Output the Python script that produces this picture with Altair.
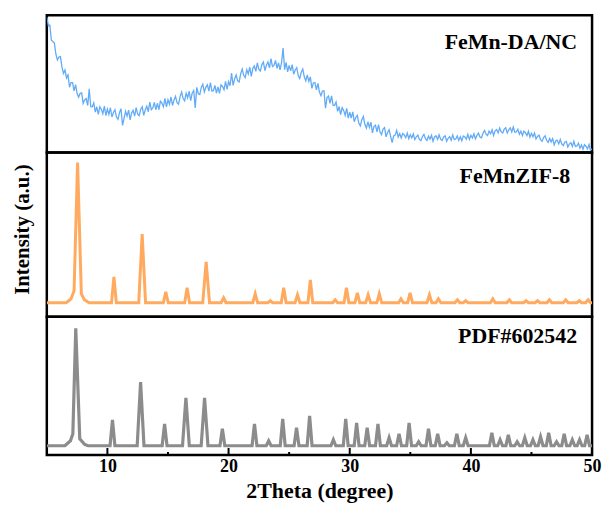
import altair as alt
import pandas as pd

X_MIN, X_MAX = 5, 50

# ---------------- top panel: FeMn-DA/NC (read every 0.125 deg from 5 to 50) ----------------
nc_start = 5.0
nc_step = 0.125
nc_values = [
    136, 127.5, 128, 112.8, 111.5, 110, 98.8, 93, 96, 96.4, 85.8, 79.4, 82.9, 75, 78, 65.6,
    70.3, 70.2, 62, 68.2, 59.3, 55.5, 59.6, 60, 49.4, 52.8, 54.3, 47.2, 64, 46, 45.9, 49.8,
    40.7, 46, 38.4, 46, 43.5, 39, 46.6, 37.2, 43.7, 38.4, 45, 35.7, 40.3, 43, 35.6, 33.3,
    40, 44.1, 27.2, 34.3, 41.4, 36.5, 42.7, 32.8, 39.9, 42.3, 36.7, 45.2, 38.6, 37, 43.5, 46,
    37.4, 43, 46.5, 41, 50.6, 43.2, 44.8, 50.4, 43, 49.5, 43.1, 51.5, 49.8, 46.1, 54.5, 45.8,
    53.1, 48.5, 55.8, 47.3, 52.9, 56.5, 50, 48.6, 56.2, 60.7, 54.3, 51.9, 59.5, 55, 61.6, 52.2,
    59.8, 62.3, 44.9, 65.5, 59.1, 58.3, 65.5, 68.6, 60.8, 65.5, 68.2, 61.7, 70.2, 61.7, 62.3, 67.4,
    59.6, 66, 59.5, 68, 66.4, 63, 71.6, 63.4, 71.3, 67.1, 79.9, 67.4, 74, 78, 72, 71,
    79, 83.8, 77.6, 75.4, 83.2, 79, 85.8, 76.6, 84.4, 87, 81.6, 90, 83.5, 82, 88.4, 90.9,
    82.4, 87.7, 91, 85.1, 94.3, 86.4, 87.5, 92.5, 84.5, 90.2, 83, 90.4, 104.9, 83.3, 90.7, 81.1,
    87.6, 82, 88.4, 78.7, 83, 85.2, 77.3, 74.5, 80.7, 83.9, 76.1, 72, 78, 71.5, 76, 64.4,
    69.9, 70.4, 63, 69.4, 60.8, 57.2, 61.7, 62.1, 44.6, 55.2, 56.8, 49.4, 57, 47.6, 47.2, 50.8,
    41.4, 46.2, 38.1, 45.2, 42.3, 37.3, 44.4, 34.5, 40.6, 34.7, 40.8, 31, 35.2, 37.4, 29.6, 26.8,
    33, 36.1, 28.3, 24.6, 30.9, 25.2, 30.5, 19.8, 26.1, 27.4, 20.7, 28.1, 20.6, 18.1, 23.6, 25.1,
    15.7, 20.2, 22.8, 16.3, 9.9, 16.7, 17.5, 22.2, 15.6, 19, 14.6, 19.1, 17.7, 15, 19.6, 14,
    18, 14.7, 18.7, 13, 15.8, 17.5, 13.2, 11.9, 16, 18.3, 14, 12.2, 16.5, 13.5, 17.2, 11.3,
    15.6, 16.8, 13.1, 17.8, 13.5, 12.2, 15.7, 16.8, 11.4, 14.3, 16, 12.3, 17.7, 12.9, 13.6, 16.7,
    12.1, 15.8, 11.8, 16.7, 15.7, 13.4, 18.4, 13.1, 17.4, 14.6, 18.9, 13.8, 17.2, 19.4, 15.6, 14.8,
    19.4, 22.2, 18.4, 17, 21.6, 18.9, 22.9, 17.2, 21.8, 23.1, 19.7, 24.7, 20.7, 19.7, 23.5, 24.9,
    19.7, 22.8, 24.8, 20.7, 25.7, 20.5, 20.8, 23.4, 18.3, 21.5, 17, 21.4, 19.9, 17, 21.4, 15.5,
    19.3, 15.8, 19.6, 13.7, 16.2, 17.5, 12.9, 11.2, 15, 16.9, 12.3, 10.2, 14.1, 10.7, 14, 7.7,
    11.6, 12.5, 8.6, 13.1, 8.6, 7, 10.3, 11.2, 5.6, 8.4, 10, 6.1, 11.3, 6.2, 6.6, 9.4,
    4.4, 7.7, 3.3, 7.8, 6.4, 3.6, 8, 2.1, 4,
]

# ---------------- middle panel: FeMnZIF-8 ----------------
zif_base = 14
zif_main_x = [6.6, 7.0, 7.25, 7.54, 7.85, 8.1, 8.5]
zif_main_y = [0, 4, 12, 141, 9, 3, 0]
zif_peak_x = [10.54, 12.87, 14.82, 16.58, 18.15, 19.59, 22.2, 23.44, 24.55, 25.69, 26.75,
              28.8, 29.73, 30.63, 31.52, 32.44, 34.23, 34.98, 36.58, 37.32, 38.89, 39.57,
              41.81, 43.17, 44.55, 45.5, 46.48, 47.83, 48.94, 49.67]
zif_peak_h = [26, 69, 11, 15, 41, 5, 9, 2, 15, 8, 23,
              3, 15, 10, 8, 9, 4, 10, 8, 4, 3, 2,
              4, 3, 2, 2, 3, 3, 2, 3]

# ---------------- bottom panel: PDF#602542 ----------------
pdf_base = 9.3
pdf_main_x = [6.5, 6.95, 7.15, 7.39, 7.72, 8.13, 8.4]
pdf_main_y = [0, 5, 12, 118, 7, 1.3, 0]
pdf_peak_x = [10.42, 12.74, 14.72, 16.48, 18.02, 19.49, 22.14, 23.31, 24.47, 25.61, 26.69,
              28.65, 29.67, 30.57, 31.44, 32.33, 33.25, 34.07, 34.9, 35.69, 36.5, 37.26,
              38.02, 38.84, 39.57, 41.73, 42.41, 43.09, 43.82, 44.45, 45.12, 45.75, 46.42,
              47.07, 47.7, 48.37, 48.97, 49.59]
pdf_peak_h = [26, 64, 22, 48, 48, 17, 22, 5, 27, 18, 30,
              6, 27, 23, 18, 22, 8, 12, 23, 4, 17, 12,
              3, 12, 8, 13, 6, 11, 4, 8, 6, 9, 13,
              4, 12, 6, 6, 11]

major_ticks = [10, 20, 30, 40, 50]
minor_ticks = [15, 25, 35, 45]

W = 548
H_TOP, H_MID, H_BOT = 138, 165, 139
FONT = "Liberation Serif"
C_BLUE, C_ORANGE, C_GRAY = "#62abf7", "#ffaa5e", "#8c8c8c"


def pattern_table(base, main_x, main_y, peak_x, peak_h):
    xs = [X_MIN, X_MAX]
    ys = [base, base]
    for x, y in zip(main_x, main_y):
        xs.append(x)
        ys.append(base + y)
    for x, h in zip(peak_x, peak_h):
        hw = 0.28 if h > 30 else 0.2
        xs += [x - hw, x, x + hw]
        ys += [base, base + h, base]
    return pd.DataFrame({"x": xs, "y": ys}).sort_values("x")


nc_df = pd.DataFrame({
    "x": [nc_start + i * nc_step for i in range(len(nc_values))],
    "y": nc_values,
})
zif_df = pattern_table(zif_base, zif_main_x, zif_main_y, zif_peak_x, zif_peak_h)
pdf_df = pattern_table(pdf_base, pdf_main_x, pdf_main_y, pdf_peak_x, pdf_peak_h)

xscale = alt.Scale(domain=[X_MIN, X_MAX], nice=False, zero=False)


def label_layer(text, dx, dy):
    return alt.Chart(pd.DataFrame({"t": [text]})).mark_text(
        text=text, font=FONT, fontWeight="bold", fontSize=22, align="right",
        baseline="middle", color="black"
    ).encode(x=alt.value(W - dx), y=alt.value(dy))


top_line = alt.Chart(nc_df).mark_line(color=C_BLUE, strokeWidth=1.3, clip=True).encode(
    x=alt.X("x:Q", scale=xscale, axis=None),
    y=alt.Y("y:Q", scale=alt.Scale(domain=[0, H_TOP], nice=False, zero=False), axis=None),
)
top = alt.layer(top_line, label_layer("FeMn-DA/NC", 15, 27)).properties(width=W, height=H_TOP)

mid_line = alt.Chart(zif_df).mark_line(color=C_ORANGE, strokeWidth=3, clip=True).encode(
    x=alt.X("x:Q", scale=xscale, axis=None),
    y=alt.Y("y:Q", scale=alt.Scale(domain=[0, H_MID], nice=False, zero=False),
            axis=alt.Axis(title="Intensity (a.u.)", labels=False, ticks=False, domain=False,
                          grid=False, titleFont=FONT, titleFontWeight="bold", titleFontSize=21,
                          titleColor="black", titlePadding=14, titleY=77)),
)
mid = alt.layer(mid_line, label_layer("FeMnZIF-8", 22, 24)).properties(width=W, height=H_MID)

bot_line = alt.Chart(pdf_df).mark_line(color=C_GRAY, strokeWidth=3.2, clip=True).encode(
    x=alt.X("x:Q", scale=xscale,
            axis=alt.Axis(values=major_ticks, ticks=False, domain=False, grid=False,
                          labelFont=FONT, labelFontWeight="bold", labelFontSize=18,
                          labelColor="black", labelPadding=3, labelFlush=False,
                          title="2Theta (degree)", titleFont=FONT, titleFontWeight="bold",
                          titleFontSize=22, titleColor="black", titlePadding=5)),
    y=alt.Y("y:Q", scale=alt.Scale(domain=[0, H_BOT], nice=False, zero=False), axis=None),
)
major_rules = alt.Chart(pd.DataFrame({"t": major_ticks})).mark_rule(
    color="black", strokeWidth=2).encode(
    x=alt.X("t:Q", scale=xscale), y=alt.value(H_BOT), y2=alt.value(H_BOT - 7))
minor_rules = alt.Chart(pd.DataFrame({"t": minor_ticks})).mark_rule(
    color="black", strokeWidth=2).encode(
    x=alt.X("t:Q", scale=xscale), y=alt.value(H_BOT), y2=alt.value(H_BOT - 3))
bot = alt.layer(bot_line, major_rules, minor_rules,
                label_layer("PDF#602542", 15, 19)).properties(width=W, height=H_BOT)

chart = alt.vconcat(top, mid, bot, spacing=0, bounds="flush").properties(
    padding={"left": 2, "top": 4, "right": 0, "bottom": 0}, background="white"
).configure_view(stroke="black", strokeWidth=2.5)

chart.save("out.html", embed_options={"renderer": "svg", "actions": False})
